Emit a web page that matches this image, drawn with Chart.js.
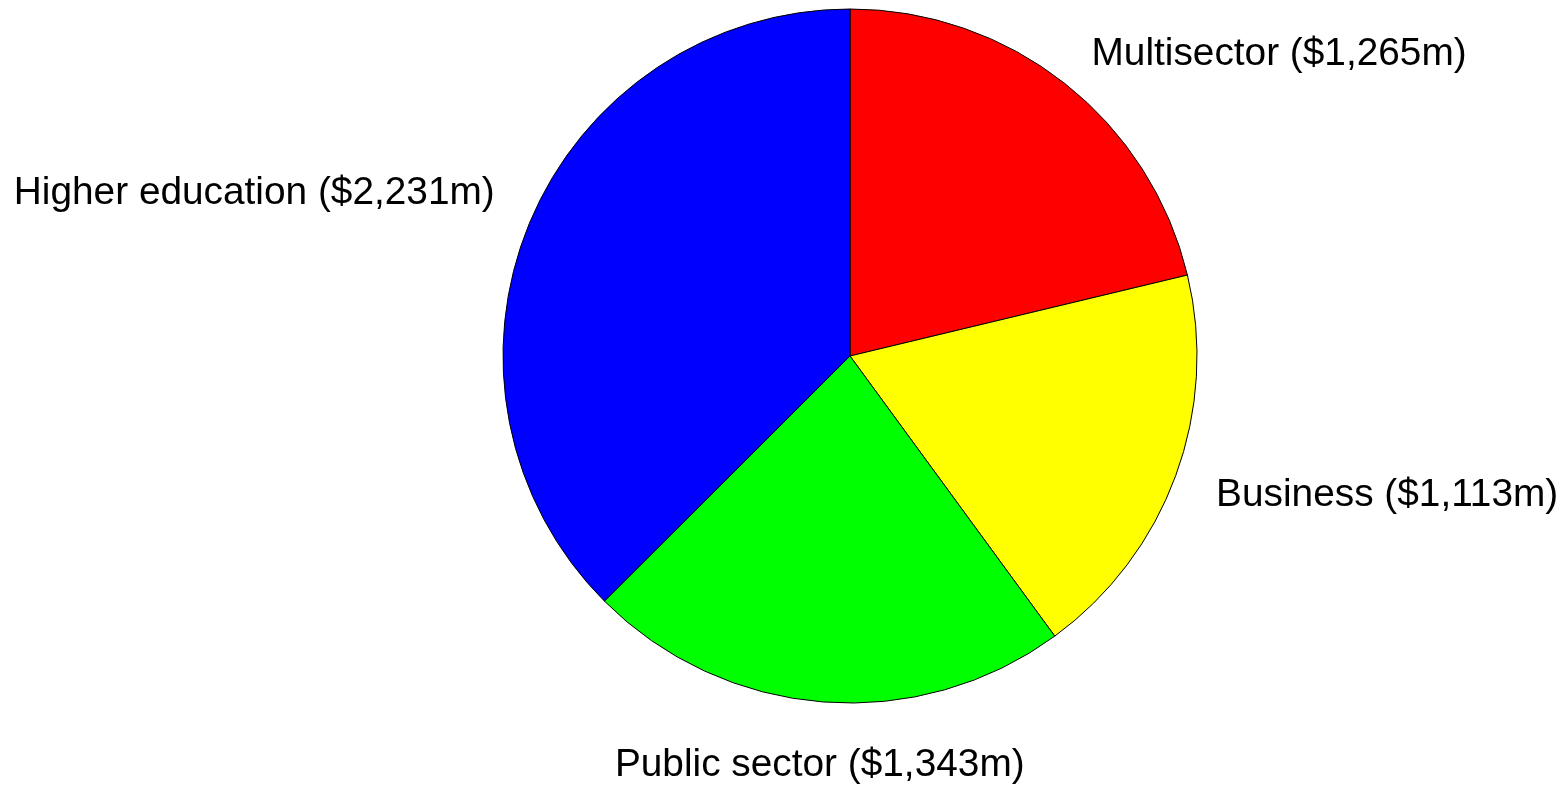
<!DOCTYPE html>
<html>
<head>
<meta charset="utf-8">
<title>Funding by sector</title>
<script src="https://cdn.jsdelivr.net/npm/chart.js@4.4.1/dist/chart.umd.min.js"></script>
<style>
  html, body { margin: 0; padding: 0; background: #fff; }
  #wrap { width: 1564px; height: 788px; position: relative; }
</style>
</head>
<body>
<div id="wrap"><canvas id="chart"></canvas></div>
<script>
// ── Data ──────────────────────────────────────────────────────
const sectors     = ['Multisector', 'Business', 'Public sector', 'Higher education'];
const funding     = [1265, 1113, 1343, 2231];   // $m
const sliceColors = ['#ff0000', '#ffff00', '#00ff00', '#0000ff'];

const LABEL_FONT = '38.8px Arial, "Liberation Sans", sans-serif';

function labelText(i) {
    return `${sectors[i]} ($${funding[i].toLocaleString('en-US')}m)`;
}

// ── Labels outside the pie, on each slice's mid-angle ─────────
const outsideLabels = {
    id: 'outsideLabels',
    afterDatasetsDraw(chart) {
        const ctx  = chart.ctx;
        const meta = chart.getDatasetMeta(0);
        ctx.save();
        ctx.font = LABEL_FONT;
        ctx.fillStyle = '#000';
        ctx.textAlign = 'left';
        ctx.textBaseline = 'alphabetic';
        const capH = ctx.measureText('H').actualBoundingBoxAscent;

        meta.data.forEach((arc, i) => {
            const { x, y, startAngle, endAngle, outerRadius } =
                arc.getProps(['x', 'y', 'startAngle', 'endAngle', 'outerRadius'], true);
            const mid = (startAngle + endAngle) / 2;
            const dx  = Math.cos(mid);
            const dy  = Math.sin(mid);
            const rho = outerRadius * 1.124;
            const ax  = x + dx * rho;
            const ay  = y + dy * rho;

            const text = labelText(i);
            const w    = ctx.measureText(text).width;
            let left, baseline;
            if (Math.abs(dx) < 0.3) {
                // near top/bottom: centred, edge touching the anchor
                left     = ax - w / 2;
                baseline = dy > 0 ? ay + capH + 4 : ay;
            } else if (dx > 0) {
                // right side: starts at the anchor, vertically centred
                left     = ax;
                baseline = ay + capH / 2 + 2;
            } else {
                // left side: ends at the anchor, sitting on it
                left     = ax - w + 5;
                baseline = ay - 3;
            }
            ctx.fillText(text, left, baseline);
        });
        ctx.restore();
    }
};

// ── Chart ─────────────────────────────────────────────────────
const ctx = document.getElementById('chart').getContext('2d');

new Chart(ctx, {
    type: 'pie',
    data: {
        labels: sectors,
        datasets: [{
            data: funding,
            backgroundColor: sliceColors,
            borderColor: '#000',
            borderWidth: 1,
            hoverOffset: 0
        }]
    },
    options: {
        responsive: true,
        maintainAspectRatio: false,
        animation: false,
        radius: 347,
        layout: { padding: { left: 136, right: 0, top: 0, bottom: 76 } },
        plugins: {
            legend:  { display: false },
            tooltip: { enabled: false }
        }
    },
    plugins: [outsideLabels]
});
</script>
</body>
</html>
